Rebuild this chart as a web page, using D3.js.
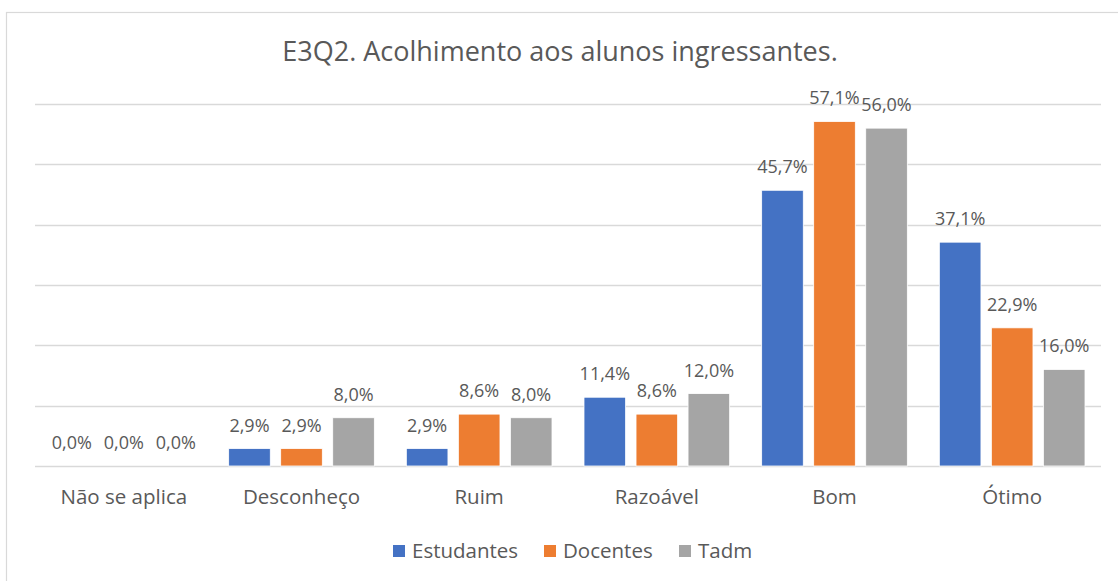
<!DOCTYPE html>
<head>
  <meta charset="utf-8">
  <script src="https://d3js.org/d3.v7.min.js"></script>
  <style>
    body { margin:0; background:#fff; }
    text { font-family: "Open Sans", sans-serif; fill:#595959; }
  </style>
</head>
<body>
<script>
  var categories = ["Não se aplica", "Desconheço", "Ruim", "Razoável", "Bom", "Ótimo"];
  var seriesNames = ["Estudantes", "Docentes", "Tadm"];
  var estudantes = [0.0, 2.9, 2.9, 11.4, 45.7, 37.1];
  var docentes = [0.0, 2.9, 8.6, 8.6, 57.1, 22.9];
  var tadm = [0.0, 8.0, 8.0, 12.0, 56.0, 16.0];
  var gridTicks = [0, 10, 20, 30, 40, 50, 60];
  var colors = ["#4472C4", "#ED7D31", "#A5A5A5"];

  var width = 1118, height = 581;
  var margin = {top: 104, left: 35, right: 17, bottom: 115};

  var series = [estudantes, docentes, tadm];

  var svg = d3.select("body").append("svg")
    .attr("width", width)
    .attr("height", height);

  // outer chart border
  svg.append("rect")
    .attr("x", 6.5).attr("y", 12.5)
    .attr("width", width + 10).attr("height", height + 10)
    .attr("fill", "none")
    .attr("stroke", "#d9d9d9")
    .attr("stroke-width", 1.2);

  var x0 = d3.scaleBand()
    .domain(categories)
    .range([margin.left, width - margin.right]);

  var x1 = d3.scaleBand()
    .domain(seriesNames)
    .range([16, x0.bandwidth() - 16])
    .paddingInner(0.2)
    .paddingOuter(0);

  var y = d3.scaleLinear()
    .domain([0, 60])
    .range([height - margin.bottom, margin.top]);

  // gridlines
  svg.append("g").selectAll("line")
    .data(gridTicks)
    .enter().append("line")
    .attr("x1", margin.left)
    .attr("x2", width - margin.right)
    .attr("y1", function(d) { return Math.round(y(d)) + 0.5; })
    .attr("y2", function(d) { return Math.round(y(d)) + 0.5; })
    .attr("stroke", "#d9d9d9")
    .attr("stroke-width", 1.3);

  // title
  svg.append("text")
    .attr("x", 560)
    .attr("y", 61)
    .attr("text-anchor", "middle")
    .style("font-size", "27px")
    .text("E3Q2. Acolhimento aos alunos ingressantes.");

  // bars
  var groups = svg.append("g").selectAll("g")
    .data(categories)
    .enter().append("g")
    .attr("transform", function(d) { return "translate(" + x0(d) + ",0)"; });

  function rows(d, i) {
    return seriesNames.map(function(s, j) { return {s: s, j: j, v: series[j][i]}; });
  }

  groups.selectAll("rect")
    .data(rows)
    .enter().append("rect")
    .attr("x", function(d) { return x1(d.s); })
    .attr("y", function(d) { return y(d.v); })
    .attr("width", x1.bandwidth())
    .attr("height", function(d) { return y(0) - y(d.v); })
    .attr("fill", function(d) { return colors[d.j]; })
    .attr("stroke", "#fff")
    .attr("stroke-width", 0.8);

  groups.selectAll("text")
    .data(rows)
    .enter().append("text")
    .attr("x", function(d) { return x1(d.s) + x1.bandwidth() / 2; })
    .attr("y", function(d) { return y(d.v) - 17; })
    .attr("text-anchor", "middle")
    .style("font-size", "18px")
    .text(function(d) { return d.v.toFixed(1).replace(".", ",") + "%"; });

  // category labels
  svg.append("g").selectAll("text")
    .data(categories)
    .enter().append("text")
    .attr("x", function(d) { return x0(d) + x0.bandwidth() / 2; })
    .attr("y", 504)
    .attr("text-anchor", "middle")
    .style("font-size", "20.5px")
    .text(function(d) { return d; });

  // legend
  var legendX = [393, 544, 679];
  var legend = svg.append("g").selectAll("g")
    .data(seriesNames)
    .enter().append("g")
    .attr("transform", function(d, i) { return "translate(" + legendX[i] + ",545)"; });

  legend.append("rect")
    .attr("width", 12).attr("height", 12)
    .attr("fill", function(d, i) { return colors[i]; });

  legend.append("text")
    .attr("x", 19)
    .attr("y", 13)
    .style("font-size", "20.5px")
    .text(function(d) { return d; });
</script>
</body>
